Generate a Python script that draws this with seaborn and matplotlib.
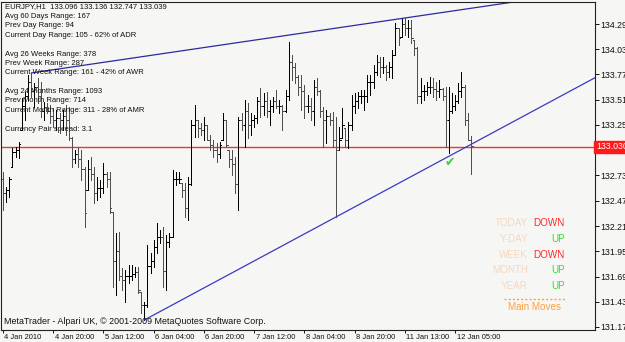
import numpy as np
import pandas as pd
import matplotlib
matplotlib.use("Agg")
import matplotlib.pyplot as plt
import matplotlib.transforms as mtransforms
import seaborn as sns

# ---------------- data (EURJPY H1) ----------------
highs = [
    132.769, 132.614, 132.717, 133.016, 133.026, 133.078, 133.532, 133.594, 133.769, 133.790,
    133.686, 133.738, 133.697, 133.490, 133.480, 133.460, 133.429, 133.408, 133.377, 133.408,
    133.460, 133.439, 133.130, 132.995, 133.026, 132.995, 132.820, 132.892, 132.923, 132.820,
    132.717, 132.686, 132.861, 132.769, 132.769, 132.356, 132.139, 132.150, 131.778, 131.758,
    131.809, 131.809, 131.789, 131.789, 131.531, 131.428, 132.015, 131.933, 132.067, 132.243,
    132.170, 132.201, 132.119, 132.139, 132.789, 132.769, 132.769, 132.655, 132.655, 132.717,
    133.305, 133.460, 133.305, 133.274, 133.336, 133.253, 133.150, 133.099, 133.068, 133.078,
    133.377, 133.305, 132.995, 132.995, 132.923, 133.336, 133.377, 133.511, 133.480, 133.377,
    133.356, 133.542, 133.635, 133.583, 133.594, 133.511, 133.542, 133.614, 133.511, 133.460,
    133.614, 134.109, 133.975, 133.893, 133.769, 133.769, 133.666, 133.563, 133.532, 133.717,
    133.738, 133.614, 133.439, 133.408, 133.377, 133.387, 133.336, 133.233, 133.429, 133.222,
    133.284, 133.563, 133.583, 133.594, 133.614, 133.614, 133.769, 133.769, 133.872, 133.975,
    133.955, 133.955, 133.872, 133.903, 134.027, 134.305, 134.254, 134.357, 134.357, 134.336,
    134.336, 134.130, 134.058, 133.738, 133.666, 133.697, 133.748, 133.738, 133.697, 133.717,
    133.635, 133.645, 133.645, 133.583, 133.563, 133.686, 133.800, 133.666, 133.377, 133.136,
]
lows = [
    132.377, 132.459, 132.511, 132.820, 132.923, 132.913, 133.202, 133.305, 133.511, 133.542,
    133.439, 133.480, 133.336, 133.305, 133.377, 133.274, 133.233, 133.202, 133.171, 133.202,
    133.150, 133.099, 132.820, 132.861, 132.820, 132.686, 132.201, 132.583, 132.686, 132.449,
    132.480, 132.511, 132.552, 132.614, 132.346, 131.582, 131.500, 131.655, 131.551, 131.428,
    131.624, 131.655, 131.686, 131.520, 131.314, 131.242, 131.376, 131.727, 131.789, 131.933,
    132.036, 131.582, 131.551, 131.995, 132.098, 132.634, 132.655, 132.511, 132.304, 132.273,
    132.634, 133.130, 133.130, 133.150, 133.099, 133.099, 132.995, 132.923, 132.871, 132.913,
    133.099, 133.026, 132.820, 132.738, 132.552, 132.377, 133.202, 133.026, 133.119, 133.150,
    133.233, 133.274, 133.336, 133.356, 133.336, 133.253, 133.387, 133.429, 133.377, 133.202,
    133.387, 133.511, 133.717, 133.686, 133.563, 133.408, 133.325, 133.387, 133.305, 133.253,
    133.563, 133.336, 133.026, 133.068, 133.253, 133.026, 132.304, 132.995, 133.119, 133.026,
    133.016, 133.202, 133.377, 133.429, 133.480, 133.408, 133.490, 133.563, 133.635, 133.769,
    133.748, 133.790, 133.717, 133.748, 133.738, 133.975, 134.078, 134.161, 134.181, 134.161,
    134.099, 133.975, 133.480, 133.480, 133.511, 133.563, 133.583, 133.542, 133.511, 133.542,
    133.511, 133.026, 132.964, 133.377, 133.408, 133.480, 133.542, 133.253, 133.099, 132.747,
]
closes = [
    132.55, 132.58, 132.70, 132.97, 133.00, 133.06, 133.45, 133.55, 133.70, 133.60,
    133.65, 133.55, 133.40, 133.44, 133.40, 133.35, 133.30, 133.33, 133.30, 133.35,
    133.30, 133.12, 132.90, 132.95, 132.90, 132.80, 132.35, 132.80, 132.75, 132.55,
    132.60, 132.60, 132.75, 132.70, 132.40, 131.85, 131.95, 131.70, 131.65, 131.70,
    131.70, 131.72, 131.74, 131.55, 131.40, 131.40, 131.80, 131.85, 132.00, 132.10,
    132.10, 131.75, 132.05, 132.10, 132.70, 132.70, 132.70, 132.58, 132.40, 132.65,
    133.25, 133.30, 133.22, 133.20, 133.25, 133.10, 133.05, 133.00, 132.95, 133.05,
    133.30, 133.05, 132.90, 132.85, 132.65, 133.30, 133.25, 133.40, 133.25, 133.30,
    133.33, 133.50, 133.45, 133.50, 133.40, 133.45, 133.50, 133.45, 133.45, 133.40,
    133.55, 133.90, 133.85, 133.75, 133.65, 133.60, 133.45, 133.45, 133.40, 133.65,
    133.60, 133.40, 133.30, 133.35, 133.30, 133.10, 133.00, 133.10, 133.25, 133.10,
    133.25, 133.45, 133.50, 133.55, 133.55, 133.55, 133.70, 133.70, 133.80, 133.90,
    133.85, 133.85, 133.80, 133.85, 133.98, 134.25, 134.15, 134.30, 134.25, 134.25,
    134.15, 134.05, 133.55, 133.60, 133.60, 133.65, 133.65, 133.62, 133.60, 133.62,
    133.55, 133.30, 133.40, 133.45, 133.50, 133.60, 133.65, 133.30, 133.10, 133.039,
]
first_open = 132.70
last_open = 133.096

x_tick_bars = [0, 16, 32, 48, 64, 80, 96, 112, 128, 144]
x_tick_labels = ["4 Jan 2010", "4 Jan 20:00", "5 Jan 12:00", "6 Jan 04:00", "6 Jan 20:00",
                 "7 Jan 12:00", "8 Jan 04:00", "8 Jan 20:00", "11 Jan 13:00", "12 Jan 05:00"]
y_ticks = [134.295, 134.035, 133.775, 133.515, 133.255, 132.995, 132.735,
           132.470, 132.210, 131.950, 131.690, 131.430, 131.170]
current_price = 133.030

upper_anchor_bars = [9, 128]    # trendline through these highs
lower_anchor_bars = [45, 106]   # trendline through these lows
touch_bar = 142                 # green check mark

info_lines = [
    "EURJPY,H1  133.096 133.136 132.747 133.039",
    "Avg 60 Days Range: 167",
    "Prev Day Range: 94",
    "Current Day Range: 105 - 62% of ADR",
    "",
    "Avg 26 Weeks Range: 378",
    "Prev Week Range: 287",
    "Current Week Range: 161 - 42% of AWR",
    "",
    "Avg 24 Months Range: 1093",
    "Prev Month Range: 714",
    "Current Month Range: 311 - 28% of AMR",
    "",
    "Currency Pair spread: 3.1",
]
move_periods = ["TODAY", "Y-DAY", "WEEK", "MONTH", "YEAR"]
move_dirs = ["DOWN", "UP", "DOWN", "UP", "UP"]
copyright_text = "MetaTrader - Alpari UK, \u00a9 2001-2009 MetaQuotes Software Corp."

# ---------------- build frames ----------------
n = len(highs)
opens = [first_open] + closes[:-1]
opens = [min(max(o, l), h) for o, l, h in zip(opens, lows, highs)]
opens[-1] = last_open
df = pd.DataFrame({"bar": np.arange(n), "open": opens, "high": highs,
                   "low": lows, "close": closes})
df["dir"] = np.where(df["close"] >= df["open"], "up", "down")

seg = pd.concat([
    df[["bar", "low", "dir"]].rename(columns={"low": "price"}),
    df[["bar", "high", "dir"]].rename(columns={"high": "price"}),
]).sort_values(["bar", "price"]).reset_index(drop=True)

# ---------------- style ----------------
BG = "#F6F6F4"
sns.set_theme(style="white", rc={"axes.facecolor": BG, "figure.facecolor": BG})
plt.rcParams["font.family"] = ["Liberation Sans", "DejaVu Sans"]

W, H = 625, 342
fig = plt.figure(figsize=(W / 100, H / 100), dpi=100, facecolor=BG)
ax = fig.add_axes([1 / W, 12 / H, 594 / W, 328 / H])
ax.set_facecolor(BG)

px_per_bar = 3.14
x0 = -2 / px_per_bar
XLIM = (x0, x0 + 594 / px_per_bar)
YLIM = (131.139, 134.522)
ax.set_xlim(*XLIM)
ax.set_ylim(*YLIM)

LW = 0.72  # one pixel
pal = {"up": "#000000", "down": "#505050"}
sns.lineplot(data=seg, x="bar", y="price", units="bar", estimator=None, hue="dir",
             palette=pal, legend=False, sort=False, lw=LW, antialiased=False, ax=ax)
tick_len = 0.55
for d, c in pal.items():
    sub = df[df["dir"] == d]
    ax.hlines(sub["open"], sub["bar"] - tick_len, sub["bar"], colors=c, lw=LW, antialiased=False)
    ax.hlines(sub["close"], sub["bar"], sub["bar"] + tick_len, colors=c, lw=LW, antialiased=False)

# current price line
ax.axhline(current_price, color="#E23A3A", lw=1.0, zorder=1)

# trend lines (rays)
xr = XLIM[1]
for bars, src, col in [(upper_anchor_bars, highs, "#2B2B9E"), (lower_anchor_bars, lows, "#3A3AC0")]:
    b0, b1 = bars
    p0, p1 = src[b0], src[b1]
    slope = (p1 - p0) / (b1 - b0)
    tl = pd.DataFrame({"bar": [b0, xr], "price": [p0, p0 + slope * (xr - b0)]})
    sns.lineplot(data=tl, x="bar", y="price", color=col, lw=0.9, ax=ax, sort=False)

ax.set_xlim(*XLIM)
ax.set_ylim(*YLIM)

# axes cosmetics
for s in ax.spines.values():
    s.set_color("#222222")
    s.set_linewidth(0.8)
ax.set_xlabel("")
ax.set_ylabel("")
ax.yaxis.tick_right()
ax.set_yticks(y_ticks)
ax.set_yticklabels([f"{v:.3f}" for v in y_ticks])
ax.set_xticks(x_tick_bars)
ax.set_xticklabels(x_tick_labels)
ax.tick_params(axis="y", direction="out", length=3, width=0.7, pad=1, labelsize=6.3,
               colors="#111111", right=True, left=False)
ax.tick_params(axis="x", direction="out", length=2.5, width=0.7, pad=0.3, labelsize=5.4,
               colors="#111111", bottom=True)
for lab in ax.get_xticklabels():
    lab.set_ha("left")
    lab.set_transform(lab.get_transform() + mtransforms.ScaledTranslation(1.5 / 100, 0, fig.dpi_scale_trans))

# red price label
trans = mtransforms.blended_transform_factory(ax.transAxes, ax.transData)
ax.text(1.0015, current_price, f"{current_price:.3f}", transform=trans, color="white",
        fontsize=6.3, va="center", ha="left", clip_on=False, zorder=10,
        bbox=dict(boxstyle="square,pad=0.18", fc="#FF1A1A", ec="#FF1A1A"))

# check mark
ax.annotate("\u2714", xy=(touch_bar, lows[touch_bar]), xytext=(0.5, -6.5), textcoords="offset points",
            ha="center", va="center", color="#3FCC3F", fontsize=9, family="DejaVu Sans")

# info text block
for k, line in enumerate(info_lines):
    if line:
        fig.text(5 / W, 1 - (7 + 9.4 * k) / H, line, fontsize=5.5, color="#111111",
                 ha="left", va="center")

fig.text(4 / W, 1 - 322 / H, copyright_text, fontsize=6.4, color="#111111", ha="left", va="center")

# main moves block
for k, (p, d) in enumerate(zip(move_periods, move_dirs)):
    yy = 1 - (223 + 15.8 * k) / H
    fig.text(528 / W, yy, p, fontsize=7.1, color="#F6D7BE", ha="right", va="center")
    fig.text(565 / W, yy, d, fontsize=7.1, color="#FF2A2A" if d == "DOWN" else "#2BE02B",
             ha="right", va="center")
fig.add_artist(plt.Line2D([504 / W, 565 / W], [1 - 299 / H, 1 - 299 / H], color="#FFA040",
                          lw=1.0, ls=(0, (1.5, 1.5))))
fig.text(534 / W, 1 - 306.5 / H, "Main Moves", fontsize=7.1, color="#FFA040", ha="center", va="center")

fig.savefig("out.png", dpi=100, facecolor=BG)
